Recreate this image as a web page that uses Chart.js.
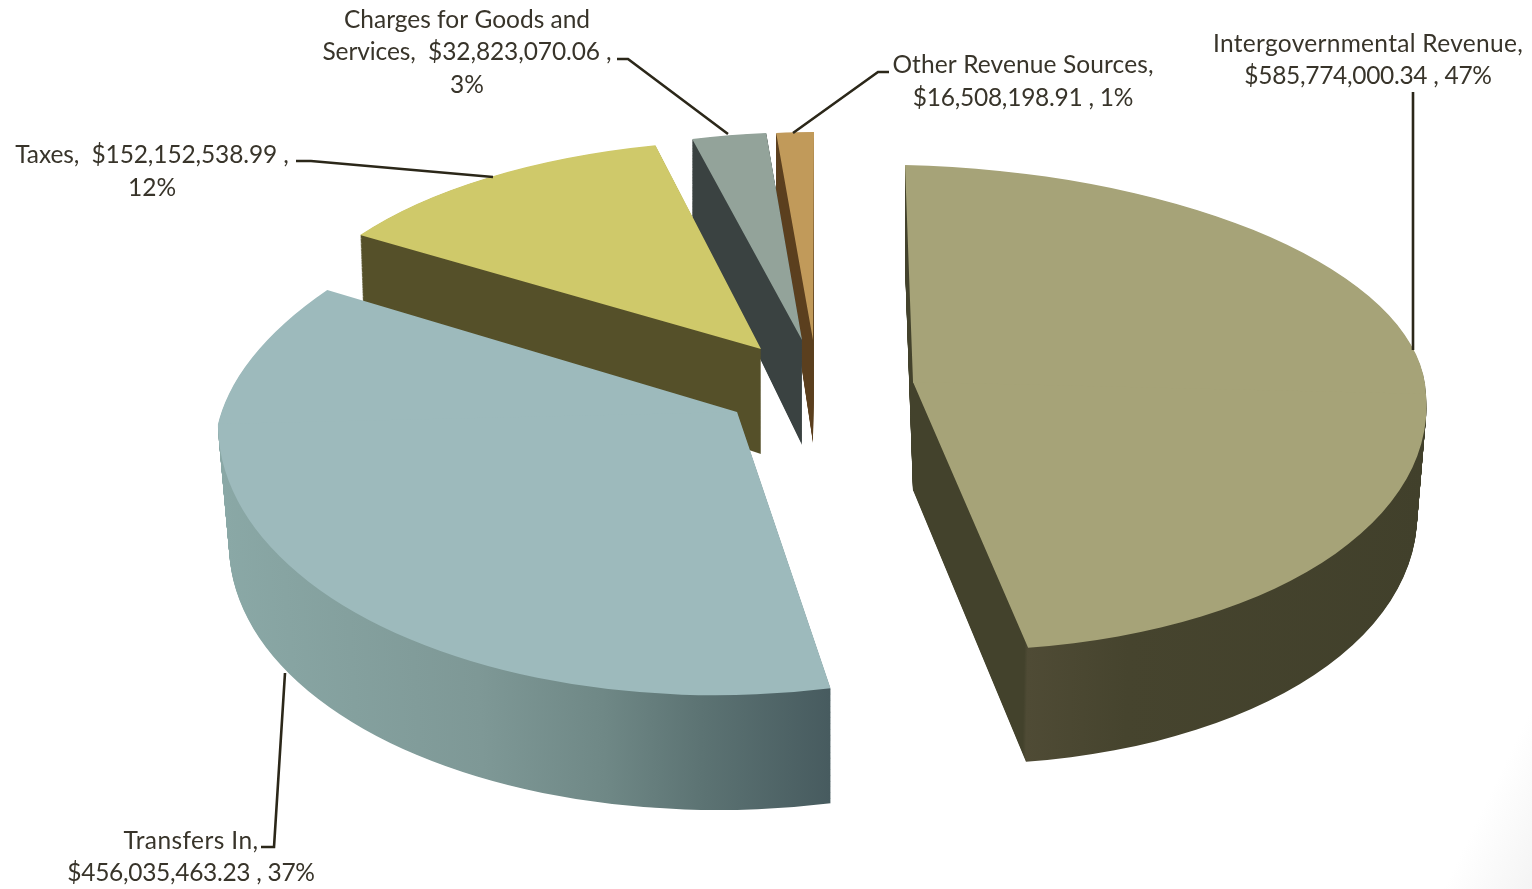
<!DOCTYPE html>
<html>
<head>
<meta charset="utf-8">
<title>Revenue sources</title>
<script src="https://cdn.jsdelivr.net/npm/chart.js@4"></script>
<style>
  html, body { margin: 0; height: 100%; overflow: hidden; }
  body { background: linear-gradient(116deg, #fff 95.5%, #f4f4f4 100%); }
  #wrap { width: 1532px; height: 889px; }
  canvas { display: block; }
</style>
</head>
<body>
<div id="wrap"><canvas id="pie" width="1532" height="889"></canvas></div>
<script>
// ==================== DATA ====================
const categories = ['Intergovernmental Revenue', 'Transfers In', 'Taxes', 'Charges for Goods and Services', 'Other Revenue Sources'];
const amounts = [585774000.34, 456035463.23, 152152538.99, 32823070.06, 16508198.91];
const topColors = ['#a6a378', '#9dbabc', '#cfc96a', '#93a39a', '#c19a5a'];

const labelLines = [
  ['Intergovernmental Revenue,', '$585,774,000.34 , 47%'],
  ['Transfers In,', '$456,035,463.23 , 37%'],
  ['Taxes,  $152,152,538.99 ,', '12%'],
  ['Charges for Goods and', 'Services,  $32,823,070.06 ,', '3%'],
  ['Other Revenue Sources,', '$16,508,198.91 , 1%']
];

// ==================== LAYOUT ====================
// wall shading along the slice's local x axis: [u, colour], u from -1 to 1
const wallShades = [
  [[-1, '#43422c'], [0.175, '#43422c'], [0.18, '#4f4b35'], [0.38, '#46442e'], [1, '#41402b']],
  [[-1, '#8aa8a6'], [-0.5, '#7e9896'], [-0.26, '#6f8886'], [-0.07, '#5c7373'], [0.18, '#475b5f']],
  [[-1, '#555029'], [1, '#555029']],
  [[-1, '#3a4241'], [1, '#3a4241']],
  [[-1, '#5b3f1e'], [1, '#5b3f1e']]
];

// how each slice sits on the page: apex, x axis, y axis above and below the apex
const sliceViews = [
  { apex: [913, 382], ex: [513, 12], eyBack: [8, 217], eyFront: [23, 268] },
  { apex: [737, 412], ex: [519, -12], eyBack: [-61, 252], eyFront: [0, 283] },
  { apex: [761, 349], ex: [479, 5], eyBack: [-13, 209], eyFront: [-13, 209] },
  { apex: [802, 340], ex: [453, -2], eyBack: [-2, 208], eyFront: [-2, 208] },
  { apex: [813, 340], ex: [454, -3], eyBack: [-1, 208], eyFront: [-1, 208] }
];

// extrusion: wall height at two page rows, and how far the foot pulls in toward xFocus
const sliceWalls = [
  { y0: 165, d0: 103, y1: 648, d1: 114, pull: 0.018, xFocus: 910 },
  { y0: 447, d0: 120, y1: 688, d1: 115, pull: 0.018, xFocus: 830 },
  { y0: 235, d0: 87, y1: 349, d1: 105, pull: 0.008, xFocus: 761 },
  { y0: 139, d0: 80, y1: 340, d1: 105, pull: 0, xFocus: 800 },
  { y0: 133, d0: 65, y1: 340, d1: 103, pull: 0, xFocus: 813 }
];

const labelPos = [
  { x: 1368, y: [52, 84], track: [0.3, -0.3] },
  { x: 191, y: [849, 881], track: [0.4, -0.3] },
  { x: 152, y: [163, 196], track: [-0.12, 0] },
  { x: 467, y: [28, 60, 93], track: [0, -0.1, 0] },
  { x: 1023, y: [73, 106], track: [0.1, -0.25] }
];

const leaders = [
  [[1413, 92], [1413, 350]],
  [[261, 847], [274, 847], [285, 673]],
  [[296, 161], [311, 161], [493, 177]],
  [[617, 59], [628, 59], [728, 134]],
  [[889, 72], [878, 72], [793, 133]]
];

// back slices first so the front ones cover them
const paintOrder = [4, 3, 2, 1, 0];

// ==================== DRAWING ====================
function drawArc(chart, arc, view, wall, t, fill) {
  const ctx = chart.ctx;
  const R = arc.outerRadius;
  const cx = arc.x, cy = arc.y;
  const k = (wall.d1 - wall.d0) / (wall.y1 - wall.y0);
  const saved = arc.options;
  arc.options = Object.assign({}, saved, { backgroundColor: fill });

  [view.eyBack, view.eyFront].forEach((ey, half) => {
    const a = view.ex[0] / R, b = view.ex[1] / R, c = ey[0] / R, d = ey[1] / R;
    ctx.save();
    // foot of the wall is a scaled copy of the top face
    ctx.setTransform(1 - t * wall.pull, 0, 0, 1 + t * k, t * wall.pull * wall.xFocus, t * (wall.d0 - k * wall.y0));
    ctx.transform(a, b, c, d, view.apex[0] - a * cx - c * cy, view.apex[1] - b * cx - d * cy);
    ctx.beginPath();
    // back half runs a little past the axis so no seam shows between the two
    if (half === 0) ctx.rect(cx - R - 2, cy - R - 2, 2 * R + 4, R + 4);
    else ctx.rect(cx - R - 2, cy, 2 * R + 4, R + 2);
    ctx.clip();
    arc.draw(ctx);
    ctx.restore();
  });

  arc.options = saved;
}

function wallGradient(ctx, arc, stops) {
  const g = ctx.createLinearGradient(arc.x - arc.outerRadius, 0, arc.x + arc.outerRadius, 0);
  stops.forEach(s => g.addColorStop((s[0] + 1) / 2, s[1]));
  return g;
}

const extrudedPie = {
  id: 'extrudedPie',
  beforeDatasetsDraw(chart) {
    const arcs = chart.getDatasetMeta(0).data;
    paintOrder.forEach(i => {
      const arc = arcs[i], view = sliceViews[i], wall = sliceWalls[i];
      const grad = wallGradient(chart.ctx, arc, wallShades[i]);
      const steps = Math.ceil(Math.max(wall.d0, wall.d1));
      for (let s = steps; s > 0; s--) drawArc(chart, arc, view, wall, s / steps, grad);
      drawArc(chart, arc, view, wall, 0, topColors[i]);
    });
    return false; // slices are already painted
  },
  afterDraw(chart) {
    const ctx = chart.ctx;
    ctx.save();
    ctx.strokeStyle = '#2b2719';
    ctx.lineWidth = 2.6;
    leaders.forEach(pts => {
      ctx.beginPath();
      pts.forEach((p, j) => j ? ctx.lineTo(p[0], p[1]) : ctx.moveTo(p[0], p[1]));
      ctx.stroke();
    });
    ctx.fillStyle = '#38342a';
    ctx.font = '24.5px Lato';
    ctx.textAlign = 'center';
    labelLines.forEach((lines, i) => {
      lines.forEach((line, j) => {
        ctx.letterSpacing = labelPos[i].track[j] + 'px';
        ctx.fillText(line, labelPos[i].x, labelPos[i].y[j]);
      });
    });
    ctx.restore();
  }
};

// ==================== MAIN ====================
new Chart(document.getElementById('pie'), {
  type: 'pie',
  data: {
    labels: categories,
    datasets: [{ data: amounts, backgroundColor: topColors, borderWidth: 0 }]
  },
  options: {
    responsive: false,
    animation: false,
    devicePixelRatio: 1,
    events: [],
    plugins: { legend: { display: false }, tooltip: { enabled: false } }
  },
  plugins: [extrudedPie]
});
</script>
</body>
</html>
